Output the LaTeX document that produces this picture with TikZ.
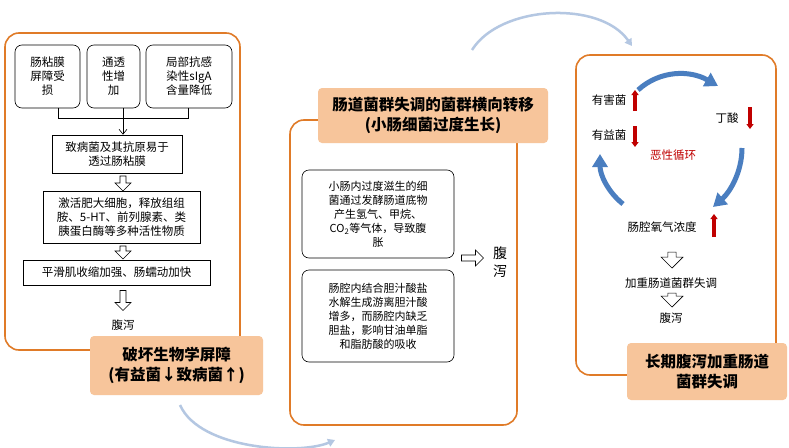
\documentclass[tikz,border=0pt]{standalone}
\usepackage{fontspec}
\setmainfont{Noto Sans CJK SC}
\usetikzlibrary{arrows.meta,shapes.arrows}
\definecolor{org}{HTML}{E07B28}
\definecolor{ofill}{HTML}{F7C59B}
\definecolor{blu}{HTML}{4A7EC0}
\definecolor{lblu}{HTML}{B4C7E2}
\definecolor{dred}{HTML}{C00000}
\begin{document}
\begin{tikzpicture}[x=1pt,y=-1pt,
 panel/.style={draw=org,line width=1.6pt,rounded corners=14pt},
 ttl/.style={fill=ofill,rounded corners=4pt,font=\bfseries\fontsize{15.5}{20}\selectfont,align=center,inner sep=0pt},
 box/.style={draw,line width=0.6pt,align=center,font=\fontsize{11.5}{14}\selectfont,inner sep=0pt},
 rbox/.style={box,rounded corners=7pt},
 mbox/.style={rbox,font=\fontsize{11}{14}\selectfont},
 txt/.style={font=\fontsize{11.5}{14}\selectfont,align=center},
 hol/.style={single arrow,draw,line width=0.6pt,shape border rotate=270,minimum height=16pt,minimum width=16pt,single arrow head extend=3pt,inner sep=1.5pt,fill=white},
 big/.style={blu,line width=5pt,-{Triangle[width=15pt,length=13pt]}},
 red/.style={dred,line width=3.2pt,-{Triangle[width=7pt,length=5pt]}},
 lb/.style={lblu,line width=2.5pt,-{Triangle[width=8pt,length=7pt]}}]
\useasboundingbox (0,0) rectangle (789,447);
\fill[white] (0,0) rectangle (789,447);
% left panel
\draw[panel] (5,33) rectangle (240,350);
\node[rbox,minimum width=65pt,minimum height=63pt] (a1) at (47.5,76.5) {肠粘膜\\屏障受\\损};
\node[rbox,minimum width=53pt,minimum height=63pt] (a2) at (113.5,76.5) {通透\\性增\\加};
\node[rbox,minimum width=86pt,minimum height=63pt] (a3) at (189,76.5) {局部抗感\\染性sIgA\\含量降低};
\node[box,minimum width=130pt,minimum height=38pt] (a4) at (117,154) {致病菌及其抗原易于\\透过肠粘膜};
\node[box,minimum width=157pt,minimum height=52pt] (a5) at (121.5,217) {激活肥大细胞，释放组组\\胺、5-HT、前列腺素、类\\胰蛋白酶等多种活性物质};
\node[box,minimum width=187pt,minimum height=25pt] (a6) at (116.5,272.5) {平滑肌收缩加强、肠蠕动加快};
\node[txt] (a7) at (123,325) {腹泻};
\draw[line width=0.6pt] (a1.south -| 58,0) |- (188,118) -- (a3.south -| 188,0);
\draw[line width=0.6pt,-{Straight Barb[length=5pt,width=8pt]}] (a2.south -| 123,0) -- (a4.north -| 123,0);
\node[hol,minimum height=15pt] (h1) at (123,182) {};
\node[hol,minimum height=13pt] (h2) at (123,251) {};
\node[hol,minimum height=20pt] (h3) at (123,299) {};
\node[ttl,minimum width=173pt,minimum height=59pt] (t1) at (176.5,365.5) {破坏生物学屏障\\(有益菌↓致病菌↑)};
% middle panel
\draw[panel] (290,120) rectangle (517,425);
\node[ttl,minimum width=230pt,minimum height=55pt] (t2) at (433,115.5) {肠道菌群失调的菌群横向转移\\(小肠细菌过度生长)};
\node[mbox,minimum width=152pt,minimum height=88pt] (m1) at (378,214) {小肠内过度滋生的细\\菌通过发酵肠道底物\\产生氢气、甲烷、\\CO\textsubscript{2}等气体，导致腹\\胀};
\node[mbox,minimum width=152pt,minimum height=92pt] (m2) at (378,316) {肠腔内结合胆汁酸盐\\水解生成游离胆汁酸\\增多，而肠腔内缺乏\\胆盐，影响甘油单脂\\和脂肪酸的吸收};
\node[hol,shape border rotate=0,minimum height=22pt] (m3) at (471,258) {};
\node[font=\fontsize{14}{18}\selectfont,align=center] (m4) at (500,262) {腹\\泻};
% right panel
\draw[panel] (576,55) rectangle (776,375);
\node[ttl,minimum width=160pt,minimum height=57pt] (t3) at (707,371.5) {长期腹泻加重肠道\\菌群失调};
\node[txt] (r1) at (609,100) {有害菌};
\node[txt] (r2) at (609,135) {有益菌};
\node[txt] (r3) at (727,118) {丁酸};
\node[txt,dred] (r4) at (673,155) {恶性循环};
\node[txt] (r5) at (662,227) {肠腔氧气浓度};
\node[txt] (r6) at (671,283) {加重肠道菌群失调};
\node[txt] (r7) at (671,318) {腹泻};
\draw[red] (635,111) -- (635,90);
\draw[red] (635,126) -- (635,147);
\draw[red] (750,107) -- (750,129);
\draw[red] (714,237) -- (714,214);
\node[hol,minimum height=16pt,minimum width=22pt] (r8) at (672,258) {};
\node[hol,minimum height=14pt,minimum width=22pt] (r9) at (672,298) {};
\coordinate (b1) at (638,90); \coordinate (b2) at (718,86);
\coordinate (b3) at (742,148); \coordinate (b4) at (713,207);
\coordinate (b5) at (623,204); \coordinate (b6) at (600,154);
\draw[big] (b1) .. controls (660,70) and (690,70) .. (b2);
\draw[big] (b3) .. controls (742,172) and (730,192) .. (b4);
\draw[big] (b5) .. controls (608,192) and (600,175) .. (b6);
% light connectors
\coordinate (c1) at (472,50); \coordinate (c2) at (632,46);
\coordinate (c3) at (180,405); \coordinate (c4) at (335,440);
\draw[lb] (c1) .. controls (500,5) and (600,0) .. (c2);
\draw[lb] (c3) .. controls (200,450) and (300,455) .. (c4);
\end{tikzpicture}
\end{document}
